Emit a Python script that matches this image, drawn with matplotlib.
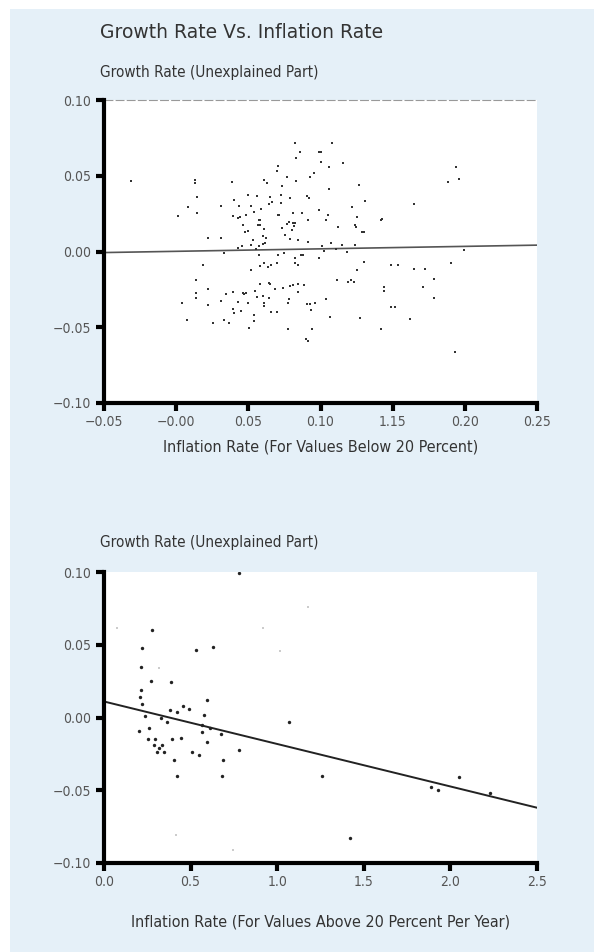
import matplotlib
matplotlib.use("Agg")
import matplotlib.pyplot as plt
from matplotlib.patches import Rectangle
import numpy as np

# ---- top panel: inflation below 20 percent ----
low_x = [-0.031, 0.013, 0.013, 0.0141, 0.0079, 0.0141, 0.0016, 0.0384, 0.0218, 0.0310,
         0.0310, 0.0403, 0.0433, 0.0396, 0.0426, 0.0442, 0.0484, 0.0465, 0.0479, 0.0495,
         0.0530, 0.0519, 0.0495, 0.0560, 0.0519, 0.0537, 0.0588, 0.0572, 0.0581, 0.0565,
         0.0581, 0.0609, 0.0604, 0.0623, 0.0576, 0.0600, 0.0618, 0.0426, 0.0456, 0.0553,
         0.0611, 0.0630, 0.0653, 0.0646, 0.0664, 0.0708, 0.0715, 0.0734, 0.0727, 0.0727,
         0.0704, 0.0697, 0.0766, 0.0789, 0.0808, 0.0780, 0.0766, 0.0808, 0.0826, 0.0732,
         0.0755, 0.0803, 0.0813, 0.0820, 0.0859, 0.0831, 0.0831, 0.0924, 0.0952, 0.0989,
         0.1000, 0.1005, 0.1058, 0.1079, 0.1155, 0.1060, 0.0905, 0.0917, 0.0873, 0.0912,
         0.0843, 0.0912, 0.0792, 0.0993, 0.1051, 0.1035, 0.1123, 0.1218, 0.1255, 0.1241,
         0.1248, 0.1266, 0.1310, 0.1289, 0.1299, 0.1421, 0.1428, 0.1009, 0.1074, 0.1109,
         0.1148, 0.1185, 0.1241, 0.1021, 0.0329, 0.0188, 0.0137, 0.0137, 0.0137, 0.0218,
         0.0218, 0.0039, 0.0072, 0.0252, 0.0333, 0.0368, 0.0310, 0.0345, 0.0396, 0.0461,
         0.0472, 0.0484, 0.0426, 0.0495, 0.0391, 0.0398, 0.0449, 0.0546, 0.0560, 0.0600,
         0.0611, 0.0611, 0.0646, 0.0641, 0.0653, 0.0581, 0.0658, 0.0699, 0.0542, 0.0542,
         0.0502, 0.0685, 0.0739, 0.0792, 0.0808, 0.0843, 0.0889, 0.0843, 0.0785, 0.0773,
         0.0773, 0.0905, 0.0924, 0.0935, 0.0965, 0.1035, 0.1063, 0.0940, 0.0901, 0.0912,
         0.1114, 0.1190, 0.1208, 0.1229, 0.1252, 0.1301, 0.1276, 0.1421, 0.1438, 0.1438,
         0.0572, 0.0704, 0.0750, 0.0820, 0.0866, 0.0877, 0.0826, 0.0843, 0.0989, 0.0611,
         0.0581, 0.0634, 0.0658, 0.0697, 0.0519, 0.1491, 0.1537, 0.1646, 0.1727, 0.1901,
         0.1993, 0.1785, 0.1711, 0.1785, 0.1491, 0.1514, 0.1618, 0.194, 0.188, 0.196,
         0.165, 0.193]
low_y = [0.0467, 0.0474, 0.0452, 0.0357, 0.0292, 0.0254, 0.0232, 0.0458, 0.0090, 0.0090,
         0.0298, 0.0342, 0.0303, 0.0237, 0.0221, 0.0228, 0.0243, 0.0178, 0.0127, 0.0134,
         0.0079, 0.0042, 0.0371, 0.0364, 0.0298, 0.0261, 0.0283, 0.0211, 0.0211, 0.0178,
         0.0175, 0.0151, 0.0105, 0.0090, 0.0039, 0.0050, 0.0057, 0.0024, 0.0035, 0.0018,
         0.0469, 0.0452, 0.0357, 0.0314, 0.0325, 0.0241, 0.0239, 0.0430, 0.0375, 0.0320,
         0.0566, 0.0529, 0.0489, 0.0353, 0.0254, 0.0193, 0.0184, 0.0189, 0.0189, 0.0156,
         0.0112, 0.0140, 0.0167, 0.0719, 0.0654, 0.0616, 0.0467, 0.0489, 0.0518, 0.0660,
         0.0654, 0.0594, 0.0561, 0.0715, 0.0583, 0.0414, 0.0364, 0.0353, 0.0254, 0.0211,
         0.0075, 0.0064, 0.0083, 0.0272, 0.0239, 0.0206, 0.0162, 0.0292, 0.0226, 0.0178,
         0.0160, 0.0441, 0.0336, 0.0132, 0.0132, 0.0206, 0.0217, 0.0035, 0.0053, 0.0018,
         0.0042, -0.0002, 0.0042, 0.0002, -0.0009, -0.0092, -0.0189, -0.0272, -0.0305, -0.0250,
         -0.0353, -0.0342, -0.0452, -0.0474, -0.0452, -0.0474, -0.0327, -0.0283, -0.0268, -0.0272,
         -0.0283, -0.0272, -0.0331, -0.0338, -0.0382, -0.0408, -0.0393, -0.0261, -0.0298, -0.0294,
         -0.0338, -0.0360, -0.0309, -0.0206, -0.0217, -0.0217, -0.0399, -0.0399, -0.0421, -0.0458,
         -0.0502, -0.0250, -0.0239, -0.0228, -0.0224, -0.0217, -0.0224, -0.0268, -0.0316, -0.0342,
         -0.0513, -0.0349, -0.0349, -0.0386, -0.0342, -0.0311, -0.0430, -0.0509, -0.0575, -0.0590,
         -0.0191, -0.0202, -0.0191, -0.0200, -0.0123, -0.0068, -0.0436, -0.0513, -0.0232, -0.0261,
         -0.0020, -0.0020, -0.0013, -0.0046, -0.0026, -0.0020, -0.0075, -0.0086, -0.0046, -0.0075,
         -0.0096, -0.0101, -0.0090, -0.0079, -0.0125, -0.0086, -0.0086, -0.0118, -0.0118, -0.0075,
         0.0009, -0.0184, -0.0232, -0.0305, -0.0364, -0.0364, -0.0443, 0.0556, 0.0462, 0.0478,
         0.0312, -0.0665]
low_fit_x = [-0.05, 0.25]
low_fit_y = [-0.0007, 0.0042]
low_xticks = [-0.05, 0.00, 0.05, 0.10, 0.15, 0.20, 0.25]
low_xlabels = ["\u22120.05", "\u22120.00", "0.05", "0.10", "1.15", "0.20", "0.25"]

# ---- bottom panel: inflation above 20 percent ----
high_x = [0.781, 0.276, 0.222, 0.216, 0.270, 0.386, 0.533, 0.627,
          0.214, 0.208, 0.220, 0.237, 0.203, 0.260, 0.255, 0.295, 0.289, 0.307,
          0.318, 0.336, 0.347, 0.365, 0.330, 0.380, 0.420, 0.457, 0.490, 0.390,
          0.405, 0.445, 0.510, 0.550, 0.567, 0.580, 0.596, 0.596, 0.610, 0.567,
          0.677, 0.689, 0.780, 1.070, 1.260, 1.418, 1.890, 1.930, 2.050, 2.230,
          0.420, 0.680]
high_y = [0.0995, 0.0600, 0.0476, 0.0345, 0.0251, 0.0242, 0.0464, 0.0487,
          0.019, 0.014, 0.009, 0.001, -0.009, -0.007, -0.015, -0.015, -0.019, -0.024,
          -0.021, -0.019, -0.024, -0.003, 0.000, 0.005, 0.004, 0.008, 0.006, -0.015,
          -0.029, -0.014, -0.024, -0.026, -0.005, 0.002, 0.012, -0.017, -0.007, -0.010,
          -0.011, -0.029, -0.022, -0.003, -0.040, -0.083, -0.048, -0.050, -0.041, -0.052,
          -0.040, -0.040]
faint_x = [0.077, 1.177, 0.916, 1.017, 0.318, 0.415, 0.742]
faint_y = [0.0613, 0.0757, 0.0613, 0.0459, 0.0338, -0.081, -0.091]
high_fit_x = [0.0, 2.5]
high_fit_y = [0.011, -0.062]
high_xticks = [0.0, 0.5, 1.0, 1.5, 2.0, 2.5]
high_xlabels = ["0.0", "0.5", "1.0", "1.5", "2.0", "2.5"]

yticks = [-0.10, -0.05, 0.00, 0.05, 0.10]
ylabels = ["\u22120.10", "\u22120.05", "0.00", "0.05", "0.10"]

FAM = "DejaVu Sans"
BG = "#e5f0f8"
W, H = 594, 952

fig = plt.figure(figsize=(W / 100, H / 100), dpi=100)
fig.patch.set_facecolor("white")
fig.patches.append(Rectangle((10 / W, 0), 1 - 10 / W, 1 - 9 / H,
                             transform=fig.transFigure, facecolor=BG,
                             edgecolor="none", zorder=-5))


def px_box(l, t, r, b):
    return [l / W, 1 - b / H, (r - l) / W, (b - t) / H]


def style_axes(ax, xticks, xlabels, xlim):
    ax.set_facecolor("white")
    ax.set_xlim(xlim)
    ax.set_ylim(-0.10, 0.10)
    ax.set_xticks(xticks)
    ax.set_xticklabels(xlabels)
    ax.set_yticks(yticks)
    ax.set_yticklabels(ylabels)
    for s in ["right", "top"]:
        ax.spines[s].set_visible(False)
    for s in ["left", "bottom"]:
        ax.spines[s].set_linewidth(3)
        ax.spines[s].set_color("black")
    ax.tick_params(direction="out", length=6, width=3, color="black",
                   labelsize=10, labelcolor="#555555", pad=3)
    for lab in ax.get_xticklabels() + ax.get_yticklabels():
        lab.set_family(FAM)
        lab.set_stretch("condensed")


# top panel
ax1 = fig.add_axes(px_box(104, 100, 537, 403))
style_axes(ax1, low_xticks, low_xlabels, (-0.05, 0.25))
ax1.axhline(0.10, color="#999999", lw=0.8, ls=(0, (8, 2)), clip_on=False)
ax1.plot(low_fit_x, low_fit_y, color="#555555", lw=1.2, zorder=2)
ax1.scatter(low_x, low_y, s=3, marker="s", color="#333333", linewidths=0, zorder=3)

# bottom panel
ax2 = fig.add_axes(px_box(104, 572, 537, 863))
style_axes(ax2, high_xticks, high_xlabels, (0.0, 2.5))
ax2.plot(high_fit_x, high_fit_y, color="#222222", lw=1.4, zorder=2)
ax2.scatter(faint_x, faint_y, s=2, marker="s", color="#cccccc", linewidths=0, zorder=3)
ax2.scatter(high_x, high_y, s=6, marker="o", color="#222222", linewidths=0, zorder=3)

# texts
txt = "#333333"
fig.text(100 / W, 1 - 33 / H, "Growth Rate Vs. Inflation Rate", fontsize=13.5,
         color=txt, va="center", ha="left", family=FAM)
fig.text(100 / W, 1 - 72 / H, "Growth Rate (Unexplained Part)", fontsize=11,
         color=txt, va="center", ha="left", family=FAM, stretch="condensed")
fig.text(321 / W, 1 - 447 / H, "Inflation Rate (For Values Below 20 Percent)",
         fontsize=11.5, color=txt, va="center", ha="center", family=FAM,
         stretch="condensed")
fig.text(100 / W, 1 - 543 / H, "Growth Rate (Unexplained Part)", fontsize=11,
         color=txt, va="center", ha="left", family=FAM, stretch="condensed")
fig.text(321 / W, 1 - 922 / H, "Inflation Rate (For Values Above 20 Percent Per Year)",
         fontsize=11.5, color=txt, va="center", ha="center", family=FAM,
         stretch="condensed")

fig.savefig("out.png", dpi=100)
